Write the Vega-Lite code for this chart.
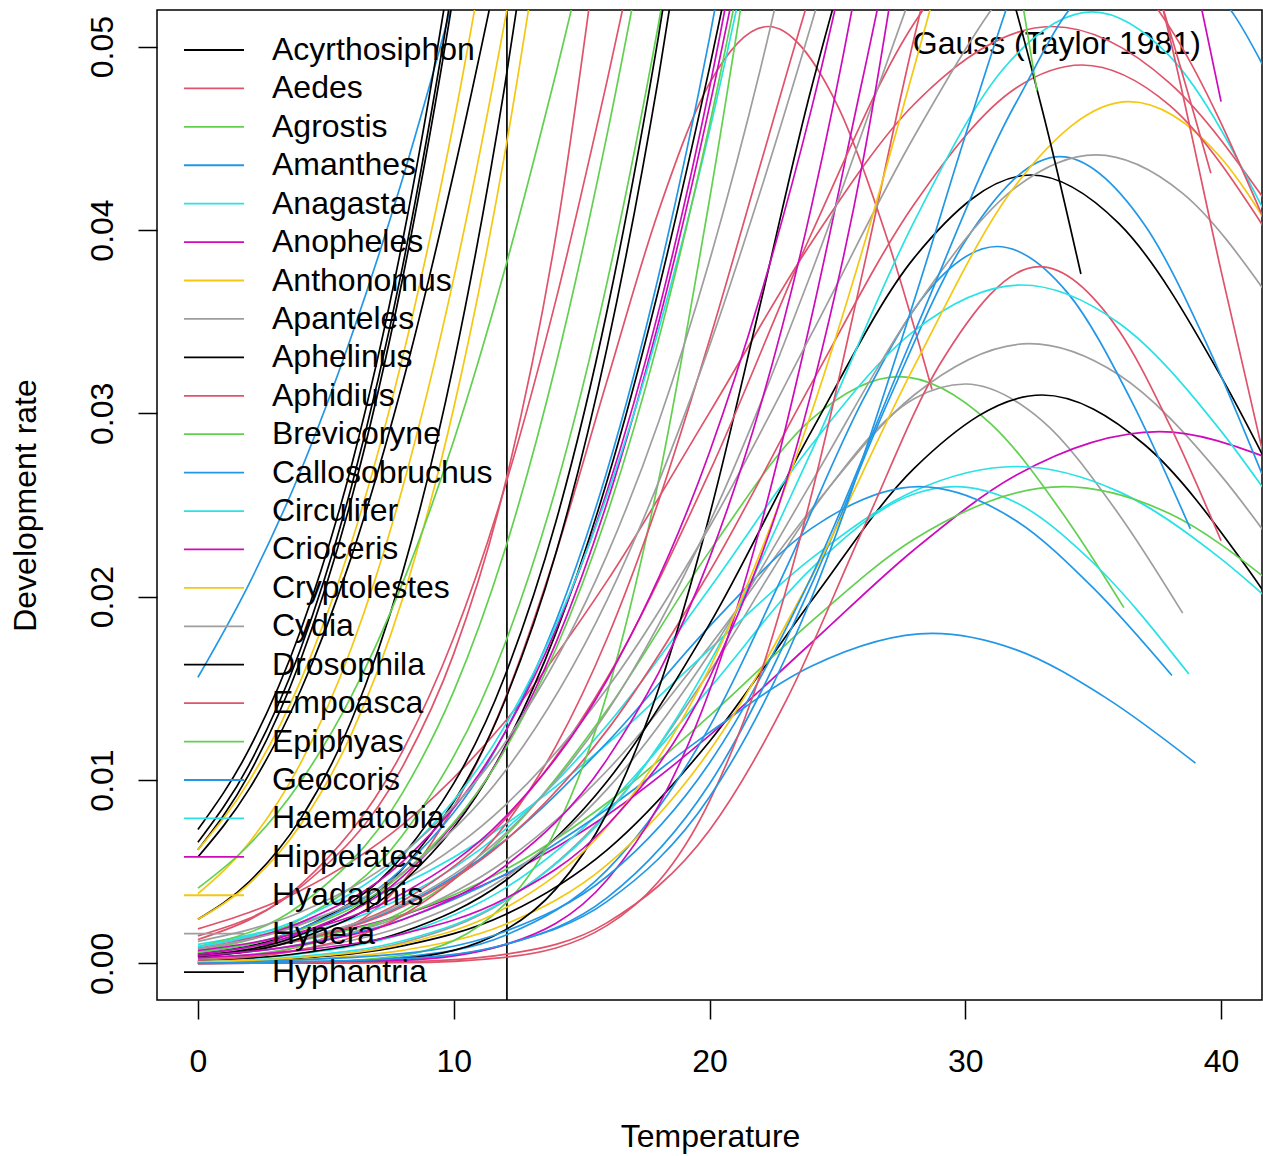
{
  "$schema": "https://vega.github.io/schema/vega-lite/v6.json",
  "width": 1105,
  "height": 990,
  "autosize": "none",
  "padding": {"left": 157, "top": 10, "right": 1, "bottom": 156},
  "background": "white",
  "config": {
    "view": {"stroke": "black", "strokeWidth": 1.5},
    "font": "Liberation Sans",
    "text": {"font": "Liberation Sans"}
  },
  "datasets": {
    "curves": [
      {"c":"p1","g":"Aedes"},{"c":"p2","g":"Agrostis"},{"c":"p3","g":"Apanteles"},{"c":"p4","g":"Cydia"},
      {"c":"p5","g":"Acyrthosiphon"},{"c":"p6","g":"Anopheles"},{"c":"p7","g":"Anagasta"},{"c":"p8","g":"Circulifer"},
      {"c":"p9","g":"Brevicoryne"},{"c":"p10","g":"Amanthes"},{"c":"p11","g":"Callosobruchus"},{"c":"p12","g":"Aphelinus"},
      {"c":"p13","g":"Geocoris"},{"c":"p14","g":"Amanthes"},{"c":"p15","g":"Aphidius"},{"c":"p16","g":"Haematobia"},
      {"c":"p17","g":"Hypera"},{"c":"p18","g":"Anthonomus"},{"c":"p19","g":"Empoasca"},{"c":"p20","g":"Aedes"},
      {"c":"p21","g":"Anagasta"},{"c":"p22","g":"Drosophila"},{"c":"p23","g":"Epiphyas"},{"c":"p24","g":"Aphidius"},
      {"c":"p25","g":"Crioceris"},{"c":"p26","g":"Callosobruchus"},{"c":"r1","g":"Empoasca"},{"c":"r2","g":"Aedes"},{"c":"r3","g":"Apanteles"},
      {"c":"r4","g":"Cydia"},{"c":"r5","g":"Cryptolestes"},{"c":"b2","g":"Geocoris"},
      {"c":"l1","g":"Geocoris"},{"c":"l2","g":"Hyphantria"},{"c":"l3","g":"Acyrthosiphon"},{"c":"l4","g":"Aphelinus"},
      {"c":"l5","g":"Hyadaphis"},{"c":"l6","g":"Drosophila"},{"c":"l7","g":"Anthonomus"},{"c":"l8","g":"Hyphantria"},
      {"c":"l9","g":"Cryptolestes"},{"c":"l10","g":"Agrostis"},
      {"c":"m1","g":"Aedes"},{"c":"m2","g":"Aphidius"},{"c":"m3","g":"Brevicoryne"},{"c":"m4","g":"Epiphyas"},
      {"c":"m5","g":"Acyrthosiphon"},{"c":"m6","g":"Aphelinus"},{"c":"m7","g":"Amanthes"},{"c":"m8","g":"Drosophila"},
      {"c":"m9","g":"Hippelates"},{"c":"m10","g":"Anopheles"},{"c":"m11","g":"Circulifer"},{"c":"m12","g":"Agrostis"},
      {"c":"m13","g":"Hypera"},{"c":"m15","g":"Apanteles"},{"c":"m17","g":"Crioceris"},{"c":"m18","g":"Hippelates"},
      {"c":"m20","g":"Anopheles"}
    ],
    "pts": [
      {"c":"p1","t":0,"r":0.000134},{"c":"p1","t":4,"r":0.000935},{"c":"p1","t":8,"r":0.00444},{"c":"p1","t":12,"r":0.0144},{"c":"p1","t":14,"r":0.0224},{"c":"p1","t":16,"r":0.0318},{"c":"p1","t":18,"r":0.041},{"c":"p1","t":20,"r":0.048},{"c":"p1","t":22.3,"r":0.0511},{"c":"p1","t":25,"r":0.0468},{"c":"p1","t":27,"r":0.0393},{"c":"p1","t":28.7,"r":0.0313},
      {"c":"p2","t":0,"r":0.000251},{"c":"p2","t":4,"r":0.000934},{"c":"p2","t":8,"r":0.00282},{"c":"p2","t":12,"r":0.00692},{"c":"p2","t":16,"r":0.01383},{"c":"p2","t":20,"r":0.02247},{"c":"p2","t":24,"r":0.0297},{"c":"p2","t":27.4,"r":0.032},{"c":"p2","t":31,"r":0.02943},{"c":"p2","t":34,"r":0.02416},{"c":"p2","t":36.2,"r":0.0194},
      {"c":"p3","t":0,"r":0.0000636},{"c":"p3","t":4,"r":0.000299},{"c":"p3","t":8,"r":0.00113},{"c":"p3","t":12,"r":0.0034},{"c":"p3","t":16,"r":0.00822},{"c":"p3","t":20,"r":0.0159},{"c":"p3","t":24,"r":0.0247},{"c":"p3","t":28,"r":0.0308},{"c":"p3","t":30,"r":0.0316},{"c":"p3","t":33,"r":0.0296},{"c":"p3","t":36,"r":0.0245},{"c":"p3","t":38.5,"r":0.0191},
      {"c":"p4","t":0,"r":0.000365},{"c":"p4","t":4,"r":0.00104},{"c":"p4","t":8,"r":0.00258},{"c":"p4","t":12,"r":0.00558},{"c":"p4","t":16,"r":0.01052},{"c":"p4","t":20,"r":0.0173},{"c":"p4","t":24,"r":0.0248},{"c":"p4","t":28,"r":0.031},{"c":"p4","t":32.5,"r":0.0338},{"c":"p4","t":36,"r":0.0321},{"c":"p4","t":40,"r":0.0266},{"c":"p4","t":42,"r":0.02295},
      {"c":"p5","t":0,"r":0.0000707},{"c":"p5","t":4,"r":0.000283},{"c":"p5","t":8,"r":0.000951},{"c":"p5","t":12,"r":0.00265},{"c":"p5","t":16,"r":0.00619},{"c":"p5","t":20,"r":0.0121},{"c":"p5","t":24,"r":0.0198},{"c":"p5","t":28,"r":0.027},{"c":"p5","t":33,"r":0.031},{"c":"p5","t":37,"r":0.0283},{"c":"p5","t":41,"r":0.0216},{"c":"p5","t":42,"r":0.0196},
      {"c":"p6","t":0,"r":0.000603},{"c":"p6","t":4,"r":0.00132},{"c":"p6","t":8,"r":0.00264},{"c":"p6","t":12,"r":0.00482},{"c":"p6","t":16,"r":0.00809},{"c":"p6","t":20,"r":0.01243},{"c":"p6","t":24,"r":0.0175},{"c":"p6","t":28,"r":0.02256},{"c":"p6","t":32,"r":0.02663},{"c":"p6","t":37.6,"r":0.029},{"c":"p6","t":42,"r":0.02748},
      {"c":"p7","t":0,"r":0.00103},{"c":"p7","t":4,"r":0.00221},{"c":"p7","t":8,"r":0.0043},{"c":"p7","t":12,"r":0.00756},{"c":"p7","t":16,"r":0.01197},{"c":"p7","t":20,"r":0.01713},{"c":"p7","t":24,"r":0.0221},{"c":"p7","t":28,"r":0.02576},{"c":"p7","t":32,"r":0.0271},{"c":"p7","t":36,"r":0.02573},{"c":"p7","t":40,"r":0.02206},{"c":"p7","t":42,"r":0.01968},
      {"c":"p8","t":0,"r":0.000139},{"c":"p8","t":4,"r":0.000519},{"c":"p8","t":8,"r":0.0016},{"c":"p8","t":12,"r":0.00409},{"c":"p8","t":16,"r":0.00862},{"c":"p8","t":20,"r":0.015},{"c":"p8","t":24,"r":0.02156},{"c":"p8","t":28,"r":0.0256},{"c":"p8","t":29.6,"r":0.026},{"c":"p8","t":32,"r":0.02512},{"c":"p8","t":35,"r":0.02185},{"c":"p8","t":38.74,"r":0.01578},
      {"c":"p9","t":0,"r":0.00052},{"c":"p9","t":4,"r":0.00124},{"c":"p9","t":8,"r":0.00265},{"c":"p9","t":12,"r":0.00509},{"c":"p9","t":16,"r":0.00876},{"c":"p9","t":20,"r":0.0135},{"c":"p9","t":24,"r":0.01867},{"c":"p9","t":28,"r":0.02313},{"c":"p9","t":33.85,"r":0.026},{"c":"p9","t":38,"r":0.02452},{"c":"p9","t":42,"r":0.02072},
      {"c":"p10","t":0,"r":0.000428},{"c":"p10","t":4,"r":0.00126},{"c":"p10","t":8,"r":0.00316},{"c":"p10","t":12,"r":0.0067},{"c":"p10","t":16,"r":0.01205},{"c":"p10","t":20,"r":0.01838},{"c":"p10","t":24,"r":0.02374},{"c":"p10","t":28.2,"r":0.026},{"c":"p10","t":32,"r":0.02413},{"c":"p10","t":35,"r":0.02048},{"c":"p10","t":38.08,"r":0.0157},
      {"c":"p11","t":0,"r":0.000371},{"c":"p11","t":4,"r":0.001015},{"c":"p11","t":8,"r":0.00239},{"c":"p11","t":12,"r":0.00484},{"c":"p11","t":16,"r":0.00842},{"c":"p11","t":20,"r":0.0126},{"c":"p11","t":24,"r":0.01622},{"c":"p11","t":28.7,"r":0.018},{"c":"p11","t":32,"r":0.0171},{"c":"p11","t":35.5,"r":0.01448},{"c":"p11","t":39,"r":0.01092},
      {"c":"p12","t":0,"r":0.000149},{"c":"p12","t":4,"r":0.000549},{"c":"p12","t":8,"r":0.00171},{"c":"p12","t":12,"r":0.00449},{"c":"p12","t":16,"r":0.00993},{"c":"p12","t":20,"r":0.0185},{"c":"p12","t":24,"r":0.02906},{"c":"p12","t":28,"r":0.03848},{"c":"p12","t":32.56,"r":0.043},{"c":"p12","t":36,"r":0.04036},{"c":"p12","t":40,"r":0.032},{"c":"p12","t":42,"r":0.0267},
      {"c":"p13","t":0,"r":0.0000049},{"c":"p13","t":4,"r":0.0000376},{"c":"p13","t":8,"r":0.000222},{"c":"p13","t":12,"r":0.00101},{"c":"p13","t":16,"r":0.00358},{"c":"p13","t":20,"r":0.00978},{"c":"p13","t":24,"r":0.0207},{"c":"p13","t":27,"r":0.0307},{"c":"p13","t":30,"r":0.0394},{"c":"p13","t":33.7,"r":0.044},{"c":"p13","t":37,"r":0.0403},{"c":"p13","t":39.5,"r":0.0336},{"c":"p13","t":41.6,"r":0.02669},
      {"c":"p14","t":0,"r":0.0000075},{"c":"p14","t":4,"r":0.0000582},{"c":"p14","t":8,"r":0.000343},{"c":"p14","t":12,"r":0.00152},{"c":"p14","t":16,"r":0.0051},{"c":"p14","t":20,"r":0.0129},{"c":"p14","t":23,"r":0.02156},{"c":"p14","t":26,"r":0.03073},{"c":"p14","t":28.5,"r":0.0366},{"c":"p14","t":31.24,"r":0.0391},{"c":"p14","t":34,"r":0.03657},{"c":"p14","t":36.5,"r":0.03067},{"c":"p14","t":38.8,"r":0.0237},
      {"c":"p15","t":0,"r":0.0000008},{"c":"p15","t":4,"r":0.0000094},{"c":"p15","t":8,"r":0.00008},{"c":"p15","t":12,"r":0.000493},{"c":"p15","t":16,"r":0.00222},{"c":"p15","t":20,"r":0.00726},{"c":"p15","t":23,"r":0.01434},{"c":"p15","t":26,"r":0.02367},{"c":"p15","t":29,"r":0.03266},{"c":"p15","t":32.9,"r":0.038},{"c":"p15","t":36,"r":0.03453},{"c":"p15","t":38,"r":0.02934},{"c":"p15","t":40,"r":0.02305},
      {"c":"p16","t":0,"r":0.000593},{"c":"p16","t":4,"r":0.00155},{"c":"p16","t":8,"r":0.00359},{"c":"p16","t":12,"r":0.00728},{"c":"p16","t":16,"r":0.013},{"c":"p16","t":20,"r":0.02045},{"c":"p16","t":24,"r":0.0283},{"c":"p16","t":28,"r":0.0345},{"c":"p16","t":32.2,"r":0.037},{"c":"p16","t":36,"r":0.03493},{"c":"p16","t":40,"r":0.02903},{"c":"p16","t":42,"r":0.02523},
      {"c":"p17","t":0,"r":0.000247},{"c":"p17","t":4,"r":0.000753},{"c":"p17","t":8,"r":0.00201},{"c":"p17","t":12,"r":0.00467},{"c":"p17","t":16,"r":0.0095},{"c":"p17","t":20,"r":0.0169},{"c":"p17","t":24,"r":0.02626},{"c":"p17","t":28,"r":0.03567},{"c":"p17","t":32,"r":0.04235},{"c":"p17","t":35.1,"r":0.0441},{"c":"p17","t":38.5,"r":0.042},{"c":"p17","t":42,"r":0.0361},
      {"c":"p18","t":0,"r":0.0000475},{"c":"p18","t":4,"r":0.000199},{"c":"p18","t":8,"r":0.000705},{"c":"p18","t":12,"r":0.00212},{"c":"p18","t":16,"r":0.00538},{"c":"p18","t":20,"r":0.01159},{"c":"p18","t":24,"r":0.0211},{"c":"p18","t":28,"r":0.03256},{"c":"p18","t":32,"r":0.0425},{"c":"p18","t":36.4,"r":0.047},{"c":"p18","t":40,"r":0.04393},{"c":"p18","t":42,"r":0.0399},
      {"c":"p19","t":0,"r":0.000456},{"c":"p19","t":4,"r":0.00127},{"c":"p19","t":8,"r":0.00309},{"c":"p19","t":12,"r":0.00668},{"c":"p19","t":16,"r":0.01272},{"c":"p19","t":20,"r":0.02136},{"c":"p19","t":24,"r":0.03166},{"c":"p19","t":28,"r":0.0414},{"c":"p19","t":32,"r":0.04776},{"c":"p19","t":34.56,"r":0.049},{"c":"p19","t":38,"r":0.04678},{"c":"p19","t":42,"r":0.03945},
      {"c":"p20","t":0,"r":0.00188},{"c":"p20","t":4,"r":0.00396},{"c":"p20","t":8,"r":0.00757},{"c":"p20","t":12,"r":0.01318},{"c":"p20","t":16,"r":0.02086},{"c":"p20","t":20,"r":0.03004},{"c":"p20","t":24,"r":0.03935},{"c":"p20","t":28,"r":0.04686},{"c":"p20","t":33.4,"r":0.0511},{"c":"p20","t":38,"r":0.048},{"c":"p20","t":42,"r":0.04106},
      {"c":"p21","t":0,"r":0.000096},{"c":"p21","t":4,"r":0.000373},{"c":"p21","t":8,"r":0.00123},{"c":"p21","t":12,"r":0.00344},{"c":"p21","t":16,"r":0.00815},{"c":"p21","t":20,"r":0.0164},{"c":"p21","t":24,"r":0.02797},{"c":"p21","t":28,"r":0.04046},{"c":"p21","t":31.5,"r":0.04881},{"c":"p21","t":34.95,"r":0.0519},{"c":"p21","t":38,"r":0.04947},{"c":"p21","t":42,"r":0.04017},
      {"c":"p22","t":0,"r":0.0000016},{"c":"p22","t":4,"r":0.0000249},{"c":"p22","t":8,"r":0.000262},{"c":"p22","t":12,"r":0.00181},{"c":"p22","t":14,"r":0.00406},{"c":"p22","t":16,"r":0.0082},{"c":"p22","t":18,"r":0.01492},{"c":"p22","t":20,"r":0.02443},{"c":"p22","t":22,"r":0.03603},{"c":"p22","t":24,"r":0.04783},{"c":"p22","t":26,"r":0.05715},{"c":"p22","t":28.4,"r":0.0616},{"c":"p22","t":31,"r":0.05633},{"c":"p22","t":33,"r":0.0466},{"c":"p22","t":34.52,"r":0.0376},
      {"c":"p23","t":0,"r":0.000002},{"c":"p23","t":4,"r":0.0000374},{"c":"p23","t":8,"r":0.00044},{"c":"p23","t":12,"r":0.00323},{"c":"p23","t":14,"r":0.00732},{"c":"p23","t":16,"r":0.01473},{"c":"p23","t":18,"r":0.02627},{"c":"p23","t":20,"r":0.04165},{"c":"p23","t":22,"r":0.05863},{"c":"p23","t":24,"r":0.0733},{"c":"p23","t":26.75,"r":0.082},{"c":"p23","t":29.5,"r":0.0733},{"c":"p23","t":31.5,"r":0.05863},{"c":"p23","t":32.8,"r":0.0476},
      {"c":"p24","t":0,"r":0.00017},{"c":"p24","t":4,"r":0.000737},{"c":"p24","t":8,"r":0.00261},{"c":"p24","t":12,"r":0.00753},{"c":"p24","t":14,"r":0.01186},{"c":"p24","t":16,"r":0.01773},{"c":"p24","t":18,"r":0.02518},{"c":"p24","t":20,"r":0.034},{"c":"p24","t":22,"r":0.04361},{"c":"p24","t":24,"r":0.05315},{"c":"p24","t":26,"r":0.0616},{"c":"p24","t":30.75,"r":0.0711},{"c":"p24","t":36,"r":0.0596},{"c":"p24","t":38,"r":0.05083},{"c":"p24","t":39.6,"r":0.0431},
      {"c":"p25","t":0,"r":0.0000017},{"c":"p25","t":8,"r":0.000165},{"c":"p25","t":12,"r":0.00102},{"c":"p25","t":16,"r":0.00456},{"c":"p25","t":18,"r":0.00857},{"c":"p25","t":20,"r":0.01487},{"c":"p25","t":22,"r":0.02386},{"c":"p25","t":24,"r":0.03532},{"c":"p25","t":26,"r":0.04833},{"c":"p25","t":28,"r":0.0611},{"c":"p25","t":32.9,"r":0.0775},{"c":"p25","t":38,"r":0.0599},{"c":"p25","t":39.25,"r":0.052},{"c":"p25","t":40,"r":0.047},
      {"c":"p26","t":0,"r":0.0000298},{"c":"p26","t":8,"r":0.000533},{"c":"p26","t":12,"r":0.00174},{"c":"p26","t":16,"r":0.00475},{"c":"p26","t":20,"r":0.01093},{"c":"p26","t":24,"r":0.02114},{"c":"p26","t":28,"r":0.03437},{"c":"p26","t":32,"r":0.04698},{"c":"p26","t":35,"r":0.053},{"c":"p26","t":39,"r":0.05345},{"c":"p26","t":42,"r":0.048},
      {"c":"r1","t":0,"r":0.000417},{"c":"r1","t":4,"r":0.00128},{"c":"r1","t":8,"r":0.0034},{"c":"r1","t":12,"r":0.00783},{"c":"r1","t":16,"r":0.01557},{"c":"r1","t":20,"r":0.02679},{"c":"r1","t":24,"r":0.03985},{"c":"r1","t":28,"r":0.05128},{"c":"r1","t":32.95,"r":0.0573},{"c":"r1","t":38,"r":0.05104},{"c":"r1","t":42,"r":0.03953},
      {"c":"r2","t":0,"r":0.0000001},{"c":"r2","t":8,"r":0.0000357},{"c":"r2","t":12,"r":0.00033},{"c":"r2","t":16,"r":0.00207},{"c":"r2","t":20,"r":0.00885},{"c":"r2","t":22,"r":0.01581},{"c":"r2","t":24,"r":0.02563},{"c":"r2","t":26,"r":0.03777},{"c":"r2","t":28,"r":0.05047},{"c":"r2","t":30,"r":0.06125},{"c":"r2","t":33,"r":0.0683},{"c":"r2","t":36,"r":0.06125},{"c":"r2","t":38,"r":0.05047},{"c":"r2","t":40,"r":0.03777},{"c":"r2","t":42,"r":0.02563},
      {"c":"r3","t":0,"r":0.0005},{"c":"r3","t":4,"r":0.00134},{"c":"r3","t":8,"r":0.00325},{"c":"r3","t":12,"r":0.00705},{"c":"r3","t":16,"r":0.01373},{"c":"r3","t":20,"r":0.02403},{"c":"r3","t":24,"r":0.03774},{"c":"r3","t":28,"r":0.05328},{"c":"r3","t":30,"r":0.0608},
      {"c":"r4","t":0,"r":0.000919},{"c":"r4","t":4,"r":0.00213},{"c":"r4","t":8,"r":0.00449},{"c":"r4","t":12,"r":0.0086},{"c":"r4","t":16,"r":0.015},{"c":"r4","t":20,"r":0.0238},{"c":"r4","t":24,"r":0.03436},{"c":"r4","t":28,"r":0.0451},{"c":"r4","t":32,"r":0.05386},{"c":"r4","t":34,"r":0.0568},
      {"c":"r5","t":0,"r":0.0000828},{"c":"r5","t":4,"r":0.000317},{"c":"r5","t":8,"r":0.001046},{"c":"r5","t":12,"r":0.003},{"c":"r5","t":16,"r":0.00746},{"c":"r5","t":20,"r":0.01609},{"c":"r5","t":24,"r":0.0301},{"c":"r5","t":26,"r":0.039},{"c":"r5","t":28,"r":0.04886},{"c":"r5","t":30,"r":0.059},
      {"c":"b2","t":0,"r":0.000009},{"c":"b2","t":8,"r":0.000259},{"c":"b2","t":12,"r":0.00103},{"c":"b2","t":16,"r":0.00338},{"c":"b2","t":20,"r":0.00907},{"c":"b2","t":24,"r":0.01997},{"c":"b2","t":28,"r":0.03615},{"c":"b2","t":30,"r":0.04514},{"c":"b2","t":32,"r":0.05365},{"c":"b2","t":34,"r":0.0607},
      {"c":"l1","t":0,"r":0.0156},{"c":"l1","t":2,"r":0.0207},{"c":"l1","t":4,"r":0.0268},{"c":"l1","t":6,"r":0.0342},{"c":"l1","t":8,"r":0.0428},{"c":"l1","t":10,"r":0.0527},{"c":"l1","t":12,"r":0.0637},
      {"c":"l2","t":0,"r":0.0073},{"c":"l2","t":2,"r":0.01168},{"c":"l2","t":4,"r":0.0181},{"c":"l2","t":6,"r":0.02713},{"c":"l2","t":8,"r":0.0394},{"c":"l2","t":10,"r":0.0554},{"c":"l2","t":11,"r":0.0648},
      {"c":"l3","t":0,"r":0.0066},{"c":"l3","t":2,"r":0.01083},{"c":"l3","t":4,"r":0.01709},{"c":"l3","t":6,"r":0.026},{"c":"l3","t":8,"r":0.038},{"c":"l3","t":10,"r":0.0537},{"c":"l3","t":11,"r":0.0628},
      {"c":"l4","t":0,"r":0.0062},{"c":"l4","t":2,"r":0.01032},{"c":"l4","t":4,"r":0.01649},{"c":"l4","t":6,"r":0.02532},{"c":"l4","t":8,"r":0.03734},{"c":"l4","t":10,"r":0.0529},{"c":"l4","t":11,"r":0.062},
      {"c":"l5","t":0,"r":0.0062},{"c":"l5","t":2,"r":0.00994},{"c":"l5","t":4,"r":0.01537},{"c":"l5","t":6,"r":0.02294},{"c":"l5","t":8,"r":0.03304},{"c":"l5","t":10,"r":0.04587},{"c":"l5","t":12,"r":0.0615},
      {"c":"l6","t":0,"r":0.0058},{"c":"l6","t":2,"r":0.0095},{"c":"l6","t":4,"r":0.01484},{"c":"l6","t":6,"r":0.02217},{"c":"l6","t":8,"r":0.03164},{"c":"l6","t":10,"r":0.04311},{"c":"l6","t":12,"r":0.0561},{"c":"l6","t":13,"r":0.063},
      {"c":"l7","t":0,"r":0.0038},{"c":"l7","t":2,"r":0.00658},{"c":"l7","t":4,"r":0.01088},{"c":"l7","t":6,"r":0.0172},{"c":"l7","t":8,"r":0.02594},{"c":"l7","t":10,"r":0.03736},{"c":"l7","t":12,"r":0.05141},{"c":"l7","t":13,"r":0.0593},
      {"c":"l8","t":0,"r":0.0024},{"c":"l8","t":2,"r":0.00444},{"c":"l8","t":4,"r":0.00785},{"c":"l8","t":6,"r":0.01323},{"c":"l8","t":8,"r":0.0213},{"c":"l8","t":10,"r":0.0327},{"c":"l8","t":12,"r":0.04789},{"c":"l8","t":13,"r":0.057},
      {"c":"l9","t":0,"r":0.0024},{"c":"l9","t":2,"r":0.00434},{"c":"l9","t":4,"r":0.00753},{"c":"l9","t":6,"r":0.0125},{"c":"l9","t":8,"r":0.01989},{"c":"l9","t":10,"r":0.03029},{"c":"l9","t":12,"r":0.04419},{"c":"l9","t":14,"r":0.0618},
      {"c":"l10","t":0,"r":0.0041},{"c":"l10","t":2,"r":0.00647},{"c":"l10","t":4,"r":0.00988},{"c":"l10","t":6,"r":0.01457},{"c":"l10","t":8,"r":0.02074},{"c":"l10","t":10,"r":0.02851},{"c":"l10","t":12,"r":0.03786},{"c":"l10","t":14,"r":0.04856},{"c":"l10","t":16,"r":0.0601},
      {"c":"m1","t":0,"r":0.0015},{"c":"m1","t":4,"r":0.00414},{"c":"m1","t":8,"r":0.01073},{"c":"m1","t":10,"r":0.01688},{"c":"m1","t":12,"r":0.02609},{"c":"m1","t":14,"r":0.03973},{"c":"m1","t":16,"r":0.0596},
      {"c":"m2","t":0,"r":0.0013},{"c":"m2","t":4,"r":0.00426},{"c":"m2","t":8,"r":0.01158},{"c":"m2","t":10,"r":0.01776},{"c":"m2","t":12,"r":0.02598},{"c":"m2","t":14,"r":0.0362},{"c":"m2","t":16,"r":0.04816},{"c":"m2","t":18,"r":0.061},
      {"c":"m3","t":0,"r":0.0009},{"c":"m3","t":4,"r":0.00318},{"c":"m3","t":8,"r":0.0093},{"c":"m3","t":10,"r":0.01483},{"c":"m3","t":12,"r":0.02254},{"c":"m3","t":14,"r":0.03269},{"c":"m3","t":16,"r":0.04523},{"c":"m3","t":18,"r":0.0597},
      {"c":"m4","t":0,"r":0.0007},{"c":"m4","t":4,"r":0.00239},{"c":"m4","t":8,"r":0.00698},{"c":"m4","t":12,"r":0.01742},{"c":"m4","t":14,"r":0.02594},{"c":"m4","t":16,"r":0.03717},{"c":"m4","t":18,"r":0.05119},{"c":"m4","t":19,"r":0.0592},
      {"c":"m5","t":0,"r":0.0005},{"c":"m5","t":4,"r":0.00186},{"c":"m5","t":8,"r":0.00586},{"c":"m5","t":12,"r":0.01567},{"c":"m5","t":14,"r":0.02411},{"c":"m5","t":16,"r":0.03562},{"c":"m5","t":18,"r":0.05052},{"c":"m5","t":19,"r":0.0593},
      {"c":"m6","t":0,"r":0.0004},{"c":"m6","t":4,"r":0.00156},{"c":"m6","t":8,"r":0.00515},{"c":"m6","t":12,"r":0.01432},{"c":"m6","t":14,"r":0.02239},{"c":"m6","t":16,"r":0.03361},{"c":"m6","t":18,"r":0.04826},{"c":"m6","t":19,"r":0.057},
      {"c":"m7","t":0,"r":0.0006},{"c":"m7","t":4,"r":0.00188},{"c":"m7","t":8,"r":0.00518},{"c":"m7","t":12,"r":0.01258},{"c":"m7","t":14,"r":0.01868},{"c":"m7","t":16,"r":0.02688},{"c":"m7","t":18,"r":0.03744},{"c":"m7","t":20,"r":0.05047},{"c":"m7","t":21,"r":0.058},
      {"c":"m8","t":0,"r":0.00035},{"c":"m8","t":4,"r":0.00136},{"c":"m8","t":8,"r":0.0044},{"c":"m8","t":12,"r":0.0118},{"c":"m8","t":14,"r":0.01804},{"c":"m8","t":16,"r":0.02633},{"c":"m8","t":18,"r":0.0367},{"c":"m8","t":20,"r":0.04884},{"c":"m8","t":22,"r":0.0621},
      {"c":"m9","t":0,"r":0.0008},{"c":"m9","t":4,"r":0.00222},{"c":"m9","t":8,"r":0.00555},{"c":"m9","t":12,"r":0.01258},{"c":"m9","t":14,"r":0.01823},{"c":"m9","t":16,"r":0.02578},{"c":"m9","t":18,"r":0.03552},{"c":"m9","t":20,"r":0.04775},{"c":"m9","t":22,"r":0.06266},
      {"c":"m10","t":0,"r":0.0005},{"c":"m10","t":4,"r":0.00165},{"c":"m10","t":8,"r":0.00473},{"c":"m10","t":12,"r":0.01172},{"c":"m10","t":14,"r":0.01749},{"c":"m10","t":16,"r":0.02515},{"c":"m10","t":18,"r":0.0349},{"c":"m10","t":20,"r":0.04674},{"c":"m10","t":22,"r":0.06037},
      {"c":"m11","t":0,"r":0.0009},{"c":"m11","t":4,"r":0.00243},{"c":"m11","t":8,"r":0.00591},{"c":"m11","t":12,"r":0.01295},{"c":"m11","t":14,"r":0.01844},{"c":"m11","t":16,"r":0.02555},{"c":"m11","t":18,"r":0.03451},{"c":"m11","t":20,"r":0.04541},{"c":"m11","t":22,"r":0.05827},
      {"c":"m12","t":0,"r":0.0006},{"c":"m12","t":4,"r":0.00182},{"c":"m12","t":8,"r":0.00489},{"c":"m12","t":12,"r":0.01164},{"c":"m12","t":14,"r":0.01716},{"c":"m12","t":16,"r":0.02451},{"c":"m12","t":18,"r":0.03398},{"c":"m12","t":20,"r":0.04573},{"c":"m12","t":22,"r":0.0596},
      {"c":"m13","t":0,"r":0.0012},{"c":"m13","t":4,"r":0.00279},{"c":"m13","t":8,"r":0.00601},{"c":"m13","t":12,"r":0.01202},{"c":"m13","t":16,"r":0.02229},{"c":"m13","t":18,"r":0.02949},{"c":"m13","t":20,"r":0.03832},{"c":"m13","t":22,"r":0.04884},{"c":"m13","t":24,"r":0.06108},
      {"c":"m15","t":0,"r":0.0008},{"c":"m15","t":4,"r":0.0021},{"c":"m15","t":8,"r":0.00495},{"c":"m15","t":12,"r":0.01046},{"c":"m15","t":16,"r":0.01983},{"c":"m15","t":20,"r":0.03368},{"c":"m15","t":22,"r":0.04215},{"c":"m15","t":24,"r":0.0513},{"c":"m15","t":26,"r":0.06088},
      {"c":"m17","t":0,"r":0.0007},{"c":"m17","t":4,"r":0.0017},{"c":"m17","t":8,"r":0.00381},{"c":"m17","t":12,"r":0.00796},{"c":"m17","t":16,"r":0.01547},{"c":"m17","t":20,"r":0.02788},{"c":"m17","t":22,"r":0.03645},{"c":"m17","t":24,"r":0.04669},{"c":"m17","t":26,"r":0.0588},
      {"c":"m18","t":0,"r":0.0004},{"c":"m18","t":4,"r":0.001003},{"c":"m18","t":8,"r":0.00238},{"c":"m18","t":12,"r":0.0053},{"c":"m18","t":16,"r":0.01114},{"c":"m18","t":20,"r":0.0221},{"c":"m18","t":22,"r":0.03045},{"c":"m18","t":24,"r":0.04137},{"c":"m18","t":26,"r":0.0553},{"c":"m18","t":27,"r":0.0636},
      {"c":"m20","t":0,"r":0.0003},{"c":"m20","t":4,"r":0.000704},{"c":"m20","t":8,"r":0.0016},{"c":"m20","t":12,"r":0.00352},{"c":"m20","t":16,"r":0.00753},{"c":"m20","t":20,"r":0.01557},{"c":"m20","t":24,"r":0.03124},{"c":"m20","t":26,"r":0.04377},{"c":"m20","t":28,"r":0.0608}
    ]
  },
  "layer": [
    {
      "data": {"values": [{"label": "Gauss (Taylor 1981)", "t": 39.21, "r": 0.0496}]},
      "mark": {"type": "text", "align": "right", "baseline": "alphabetic", "fontSize": 32, "color": "black", "font": "Liberation Sans"},
      "encoding": {
        "x": {"field": "t", "type": "quantitative", "scale": {"domain": [-1.6, 41.6], "nice": false, "zero": false}, "title": "Temperature"},
        "y": {"field": "r", "type": "quantitative", "scale": {"domain": [-0.002, 0.052], "nice": false, "zero": false}, "title": "Development rate"},
        "text": {"field": "label"}
      }
    },
    {
      "data": {"values": [{"t": 12.08}]},
      "mark": {"type": "rule", "color": "black", "strokeWidth": 1.7},
      "encoding": {
        "x": {"field": "t", "type": "quantitative", "title": "Temperature"}
      }
    },
    {
      "data": {"name": "pts"},
      "transform": [
        {"lookup": "c", "from": {"data": {"name": "curves"}, "key": "c", "fields": ["g"]}}
      ],
      "mark": {"type": "line", "interpolate": "monotone", "strokeWidth": 1.7, "clip": true},
      "encoding": {
        "x": {
          "field": "t", "type": "quantitative", "title": "Temperature",
          "axis": {
            "values": [0, 10, 20, 30, 40], "domain": false, "grid": false,
            "tickSize": 19, "tickWidth": 1.5, "tickColor": "black",
            "labelFontSize": 32, "labelColor": "black", "labelFont": "Liberation Sans",
            "labelBaseline": "alphabetic", "labelPadding": 52, "labelFlush": false, "labelOverlap": false,
            "titleFontSize": 32, "titleFont": "Liberation Sans", "titleFontWeight": "normal", "titleColor": "black",
            "titleX": 553, "titleY": 146, "titleBaseline": "alphabetic", "titleAlign": "center"
          }
        },
        "y": {
          "field": "r", "type": "quantitative", "title": "Development rate",
          "axis": {
            "values": [0, 0.01, 0.02, 0.03, 0.04, 0.05], "format": ".2f", "domain": false, "grid": false,
            "tickSize": 19, "tickWidth": 1.5, "tickColor": "black",
            "labelFontSize": 32, "labelColor": "black", "labelFont": "Liberation Sans",
            "labelAngle": 270, "labelAlign": "center", "labelBaseline": "alphabetic", "labelPadding": 26,
            "labelFlush": false, "labelOverlap": false,
            "titleFontSize": 32, "titleFont": "Liberation Sans", "titleFontWeight": "normal", "titleColor": "black",
            "titleAngle": 270, "titleX": -122, "titleY": 495, "titleBaseline": "alphabetic", "titleAlign": "center"
          }
        },
        "detail": {"field": "c"},
        "color": {
          "field": "g", "type": "nominal",
          "scale": {
            "domain": ["Acyrthosiphon","Aedes","Agrostis","Amanthes","Anagasta","Anopheles","Anthonomus","Apanteles","Aphelinus","Aphidius","Brevicoryne","Callosobruchus","Circulifer","Crioceris","Cryptolestes","Cydia","Drosophila","Empoasca","Epiphyas","Geocoris","Haematobia","Hippelates","Hyadaphis","Hypera","Hyphantria"],
            "range": ["#000000","#DF536B","#61D04F","#2297E6","#28E2E5","#CD0BBC","#F5C710","#9E9E9E","#000000","#DF536B","#61D04F","#2297E6","#28E2E5","#CD0BBC","#F5C710","#9E9E9E","#000000","#DF536B","#61D04F","#2297E6","#28E2E5","#CD0BBC","#F5C710","#9E9E9E","#000000"]
          },
          "legend": {
            "title": null, "orient": "none", "legendX": 41, "legendY": 24,
            "symbolType": "M-3,0H3", "symbolSize": 400, "symbolStrokeWidth": 1.8,
            "labelFontSize": 32, "labelColor": "black", "labelFont": "Liberation Sans", "labelOffset": 42,
            "rowPadding": 6.42, "padding": 0, "zindex": 0, "labelLimit": 500
          }
        }
      }
    }
  ]
}
